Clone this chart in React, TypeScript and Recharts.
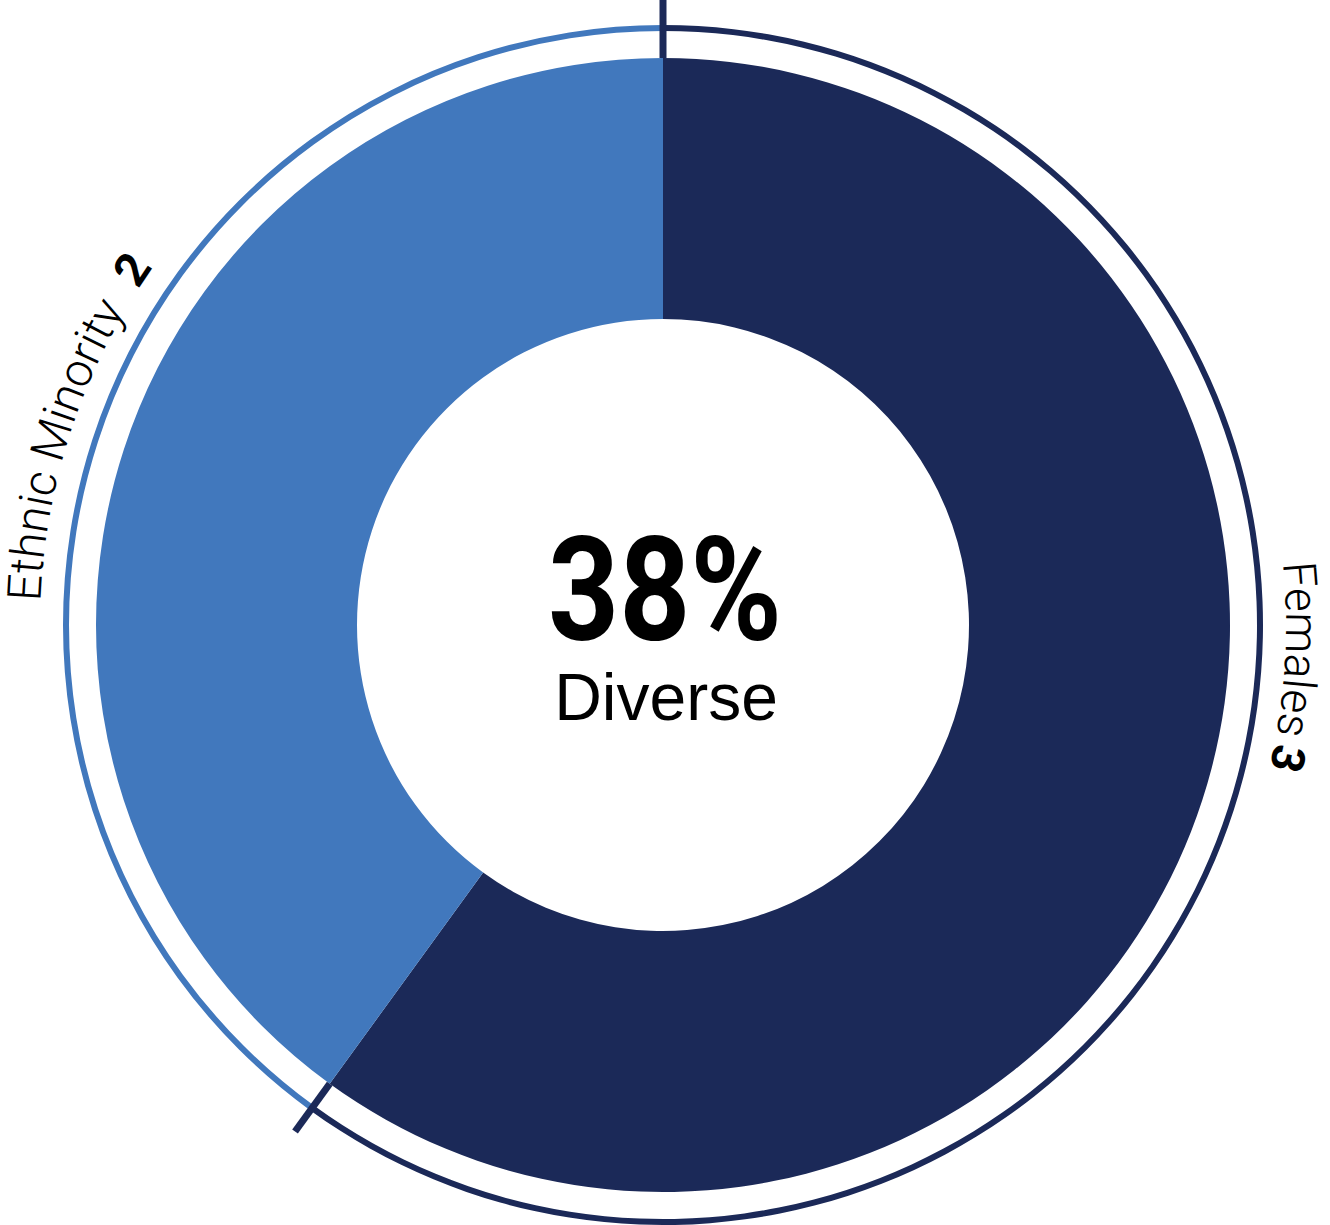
import React from 'react'
import { PieChart, Pie, Cell } from 'recharts'

// board diversity split
const categories = ['Females', 'Ethnic Minority']
const counts = [3, 2]
const sliceColors = ['#1b2958', '#4178bd']
const centerValue = '38%'
const centerLabel = 'Diverse'

const data = categories.map((name, i) => ({ name, value: counts[i] }))

const CX = 663
const CY = 625
const RAD = Math.PI / 180
const TEXT_R = 623

const polar = (cx: number, cy: number, r: number, a: number) => [
  cx + r * Math.cos(-a * RAD),
  cy + r * Math.sin(-a * RAD),
]

// the right-hand label sits near 3 o'clock rather than on the slice middle
const labelAngle = (name: string, mid: number) => (name === 'Females' ? -3.8 : mid - 0.6)

const renderRingLabel = (props: any) => {
  const { cx, cy, startAngle, midAngle, index, name, value } = props
  const [x1, y1] = polar(cx, cy, 567, startAngle)
  const [x2, y2] = polar(cx, cy, 626, startAngle)
  const theta = labelAngle(name, midAngle)
  const [sx, sy] = polar(cx, cy, TEXT_R, theta + 70)
  const [ex, ey] = polar(cx, cy, TEXT_R, theta - 70)
  const id = `ring-arc-${index}`
  return (
    <g key={id}>
      <line x1={x1} y1={y1} x2={x2} y2={y2} stroke={sliceColors[0]} strokeWidth={7} />
      <path id={id} d={`M ${sx} ${sy} A ${TEXT_R} ${TEXT_R} 0 0 1 ${ex} ${ey}`} fill="none" stroke="none" />
      <text
        fontFamily="Roboto, 'Liberation Sans', sans-serif"
        fontWeight={300}
        fontSize={index === 1 ? 47 : 46}
        fill="#000"
      >
        <textPath href={`#${id}`} startOffset="50%" textAnchor="middle">
          {name}
          <tspan fontWeight={700} dx={index === 1 ? 24 : 8}>
            {value}
          </tspan>
        </textPath>
      </text>
    </g>
  )
}

export default function App() {
  return (
    <div style={{ position: 'absolute', left: 0, top: 0, width: 1330, height: 1225, background: '#fff' }}>
      <PieChart width={1330} height={1225} margin={{ top: 0, right: 0, bottom: 0, left: 0 }}>
        <Pie
          data={data}
          dataKey="value"
          nameKey="name"
          cx={CX}
          cy={CY}
          innerRadius={306}
          outerRadius={567}
          startAngle={90}
          endAngle={-270}
          stroke="none"
          isAnimationActive={false}
        >
          {data.map((d, i) => (
            <Cell key={d.name} fill={sliceColors[i]} />
          ))}
        </Pie>
        <Pie
          data={data}
          dataKey="value"
          nameKey="name"
          cx={CX}
          cy={CY}
          innerRadius={594}
          outerRadius={600}
          startAngle={90}
          endAngle={-270}
          stroke="none"
          label={renderRingLabel}
          labelLine={false}
          isAnimationActive={false}
        >
          {data.map((d, i) => (
            <Cell key={d.name} fill={sliceColors[i]} />
          ))}
        </Pie>
        <text
          x={665}
          y={640}
          textAnchor="middle"
          fontFamily="Roboto, 'Liberation Sans', sans-serif"
          fontWeight={700}
          fontSize={145}
          textLength={234}
          lengthAdjust="spacingAndGlyphs"
          fill="#000"
        >
          {centerValue}
        </text>
        <text
          x={666}
          y={720}
          textAnchor="middle"
          fontFamily="'Liberation Sans', Arial, sans-serif"
          fontSize={66}
          fill="#000"
        >
          {centerLabel}
        </text>
      </PieChart>
    </div>
  )
}
